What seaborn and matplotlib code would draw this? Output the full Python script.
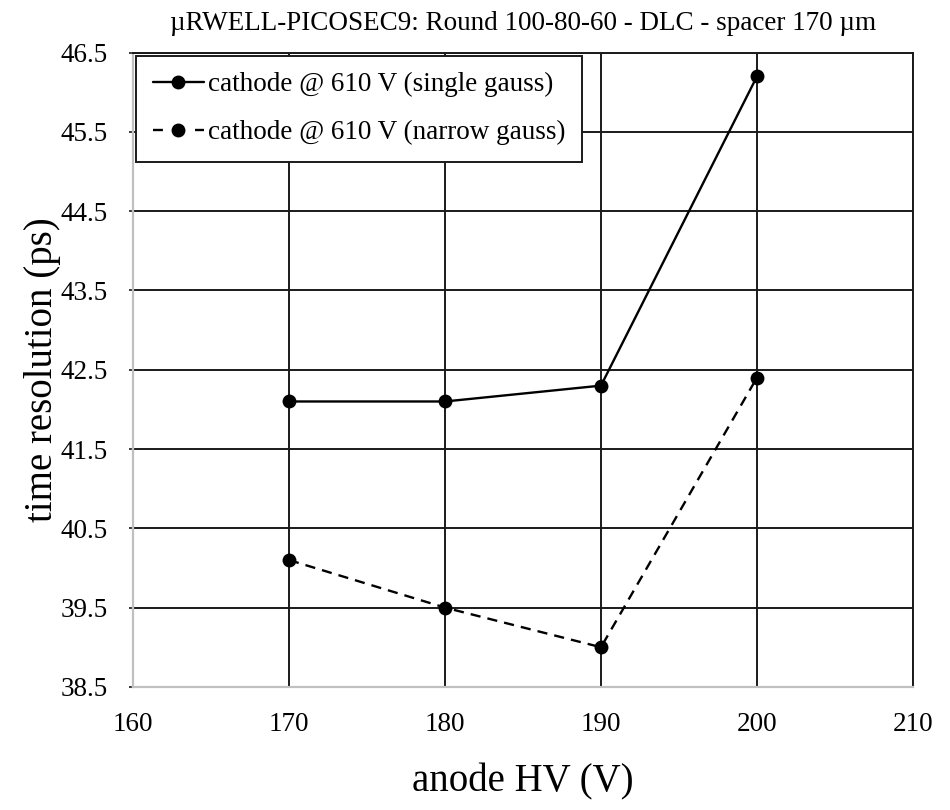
import matplotlib
matplotlib.use("Agg")
import matplotlib.pyplot as plt
from matplotlib.lines import Line2D
import seaborn as sns
import pandas as pd

# anode voltage scan (V) and measured time resolution (ps)
anode_hv = [170, 180, 190, 200]
single_gauss = [42.1, 42.1, 42.3, 46.2]
narrow_gauss = [40.1, 39.5, 39.0, 42.4]
series_labels = ["cathode @ 610 V (single gauss)", "cathode @ 610 V (narrow gauss)"]

x_ticks = [160, 170, 180, 190, 200, 210]
y_ticks = [38.5, 39.5, 40.5, 41.5, 42.5, 43.5, 44.5, 45.5, 46.5]

df = pd.DataFrame({
    "anode HV (V)": anode_hv * 2,
    "time resolution (ps)": single_gauss + narrow_gauss,
    "series": [series_labels[0]] * len(anode_hv) + [series_labels[1]] * len(anode_hv),
})

sns.set_theme(style="white")
plt.rcParams["font.family"] = ["Liberation Serif", "DejaVu Serif"]
plt.rcParams["text.color"] = "black"
plt.rcParams["axes.labelcolor"] = "black"
plt.rcParams["xtick.color"] = "black"
plt.rcParams["ytick.color"] = "black"

fig = plt.figure(figsize=(9.5, 8.1), dpi=100)
ax = fig.add_axes([0.14, 0.152, 0.821, 0.783])

lw = 1.7
ms = 10
styles = {series_labels[0]: "-", series_labels[1]: (0, (4.3, 3.0))}
for name in series_labels:
    sub = df[df["series"] == name]
    sns.lineplot(data=sub, x="anode HV (V)", y="time resolution (ps)", ax=ax,
                 color="black", marker="o", markersize=ms, markeredgewidth=0,
                 linewidth=lw, linestyle=styles[name], legend=False, zorder=3)

ax.set_xlim(x_ticks[0], x_ticks[-1])
ax.set_ylim(y_ticks[0], y_ticks[-1])
ax.set_xticks(x_ticks)
ax.set_yticks(y_ticks)
ax.set_xticklabels([str(v) for v in x_ticks])
ax.set_yticklabels([f"{v:.1f}" for v in y_ticks])

ax.grid(True, color="#1a1a1a", linewidth=1.4)
ax.set_axisbelow(True)

for side in ["left", "bottom"]:
    ax.spines[side].set_color("#c0c0c0")
    ax.spines[side].set_linewidth(1.6)
for side in ["top", "right"]:
    ax.spines[side].set_color("#1a1a1a")
    ax.spines[side].set_linewidth(1.4)

ax.tick_params(axis="y", which="major", left=True, length=3, width=1.2,
               color="#1a1a1a", labelsize=19.5, pad=15)
ax.tick_params(axis="x", which="major", bottom=False, labelsize=19.5, pad=12)

ax.set_xlabel("anode HV (V)", fontsize=28, labelpad=19)
ax.set_ylabel("time resolution (ps)", fontsize=28, labelpad=0)
ax.set_title("\u00b5RWELL-PICOSEC9: Round 100-80-60 - DLC - spacer 170 \u00b5m",
             fontsize=19.5, pad=16)

# legend keys: solid key, and a dashed key showing a short dash each side of the dot
legend_keys = [
    Line2D([], [], color="black", linewidth=lw, linestyle="-",
           marker="o", markersize=ms, markeredgewidth=0),
    Line2D([], [], color="black", linewidth=lw, linestyle=(0, (4.2, 13.6)),
           marker="o", markersize=ms, markeredgewidth=0),
]
leg = ax.legend(legend_keys, series_labels, loc="upper left",
                bbox_to_anchor=(0.0, 1.0), fontsize=19.5,
                frameon=True, fancybox=False, framealpha=1, edgecolor="#1a1a1a",
                handlelength=1.9, handletextpad=0.15, borderpad=0.6,
                labelspacing=0.85, borderaxespad=0.12)
leg.get_frame().set_linewidth(1.4)

fig.savefig("out.png", dpi=100, facecolor="white")
